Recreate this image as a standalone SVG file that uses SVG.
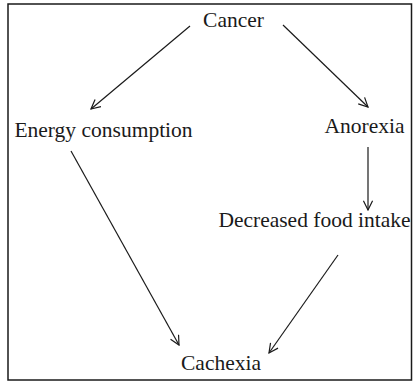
<svg xmlns="http://www.w3.org/2000/svg" width="413" height="381" viewBox="0 0 413 381">
<defs>
<style>
.lbl{font-family:"Liberation Serif","Times New Roman",serif;font-size:21.5px;fill:#1a1a1a;text-anchor:middle}
.edge{stroke:#1a1a1a;stroke-width:1.2;fill:none;marker-end:url(#ah)}
</style>
<marker id="ah" viewBox="0 0 12 12" refX="11" refY="6" markerWidth="11" markerHeight="11" markerUnits="userSpaceOnUse" orient="auto">
<path d="M1,1 L11,6 L1,11" fill="none" stroke="#1a1a1a" stroke-width="1.3"/>
</marker>
</defs>
<rect x="8" y="4" width="403.5" height="376" fill="#fff" stroke="#1a1a1a" stroke-width="1.5"/>
<g id="connectors">
<line class="edge" x1="190" y1="26" x2="91" y2="109"/>
<line class="edge" x1="283" y1="25" x2="368" y2="107"/>
<line class="edge" x1="368" y1="147" x2="368" y2="210"/>
<line class="edge" x1="71" y1="151" x2="179" y2="345"/>
<line class="edge" x1="338" y1="255" x2="269" y2="353"/>
</g>
<g id="cancer"><text class="lbl" x="233.5" y="27">Cancer</text></g>
<g id="energy"><text class="lbl" x="103.5" y="137">Energy consumption</text></g>
<g id="anorexia"><text class="lbl" x="364.5" y="133">Anorexia</text></g>
<g id="decreased"><text class="lbl" x="314.5" y="227">Decreased food intake</text></g>
<g id="cachexia"><text class="lbl" x="221" y="370">Cachexia</text></g>
</svg>
